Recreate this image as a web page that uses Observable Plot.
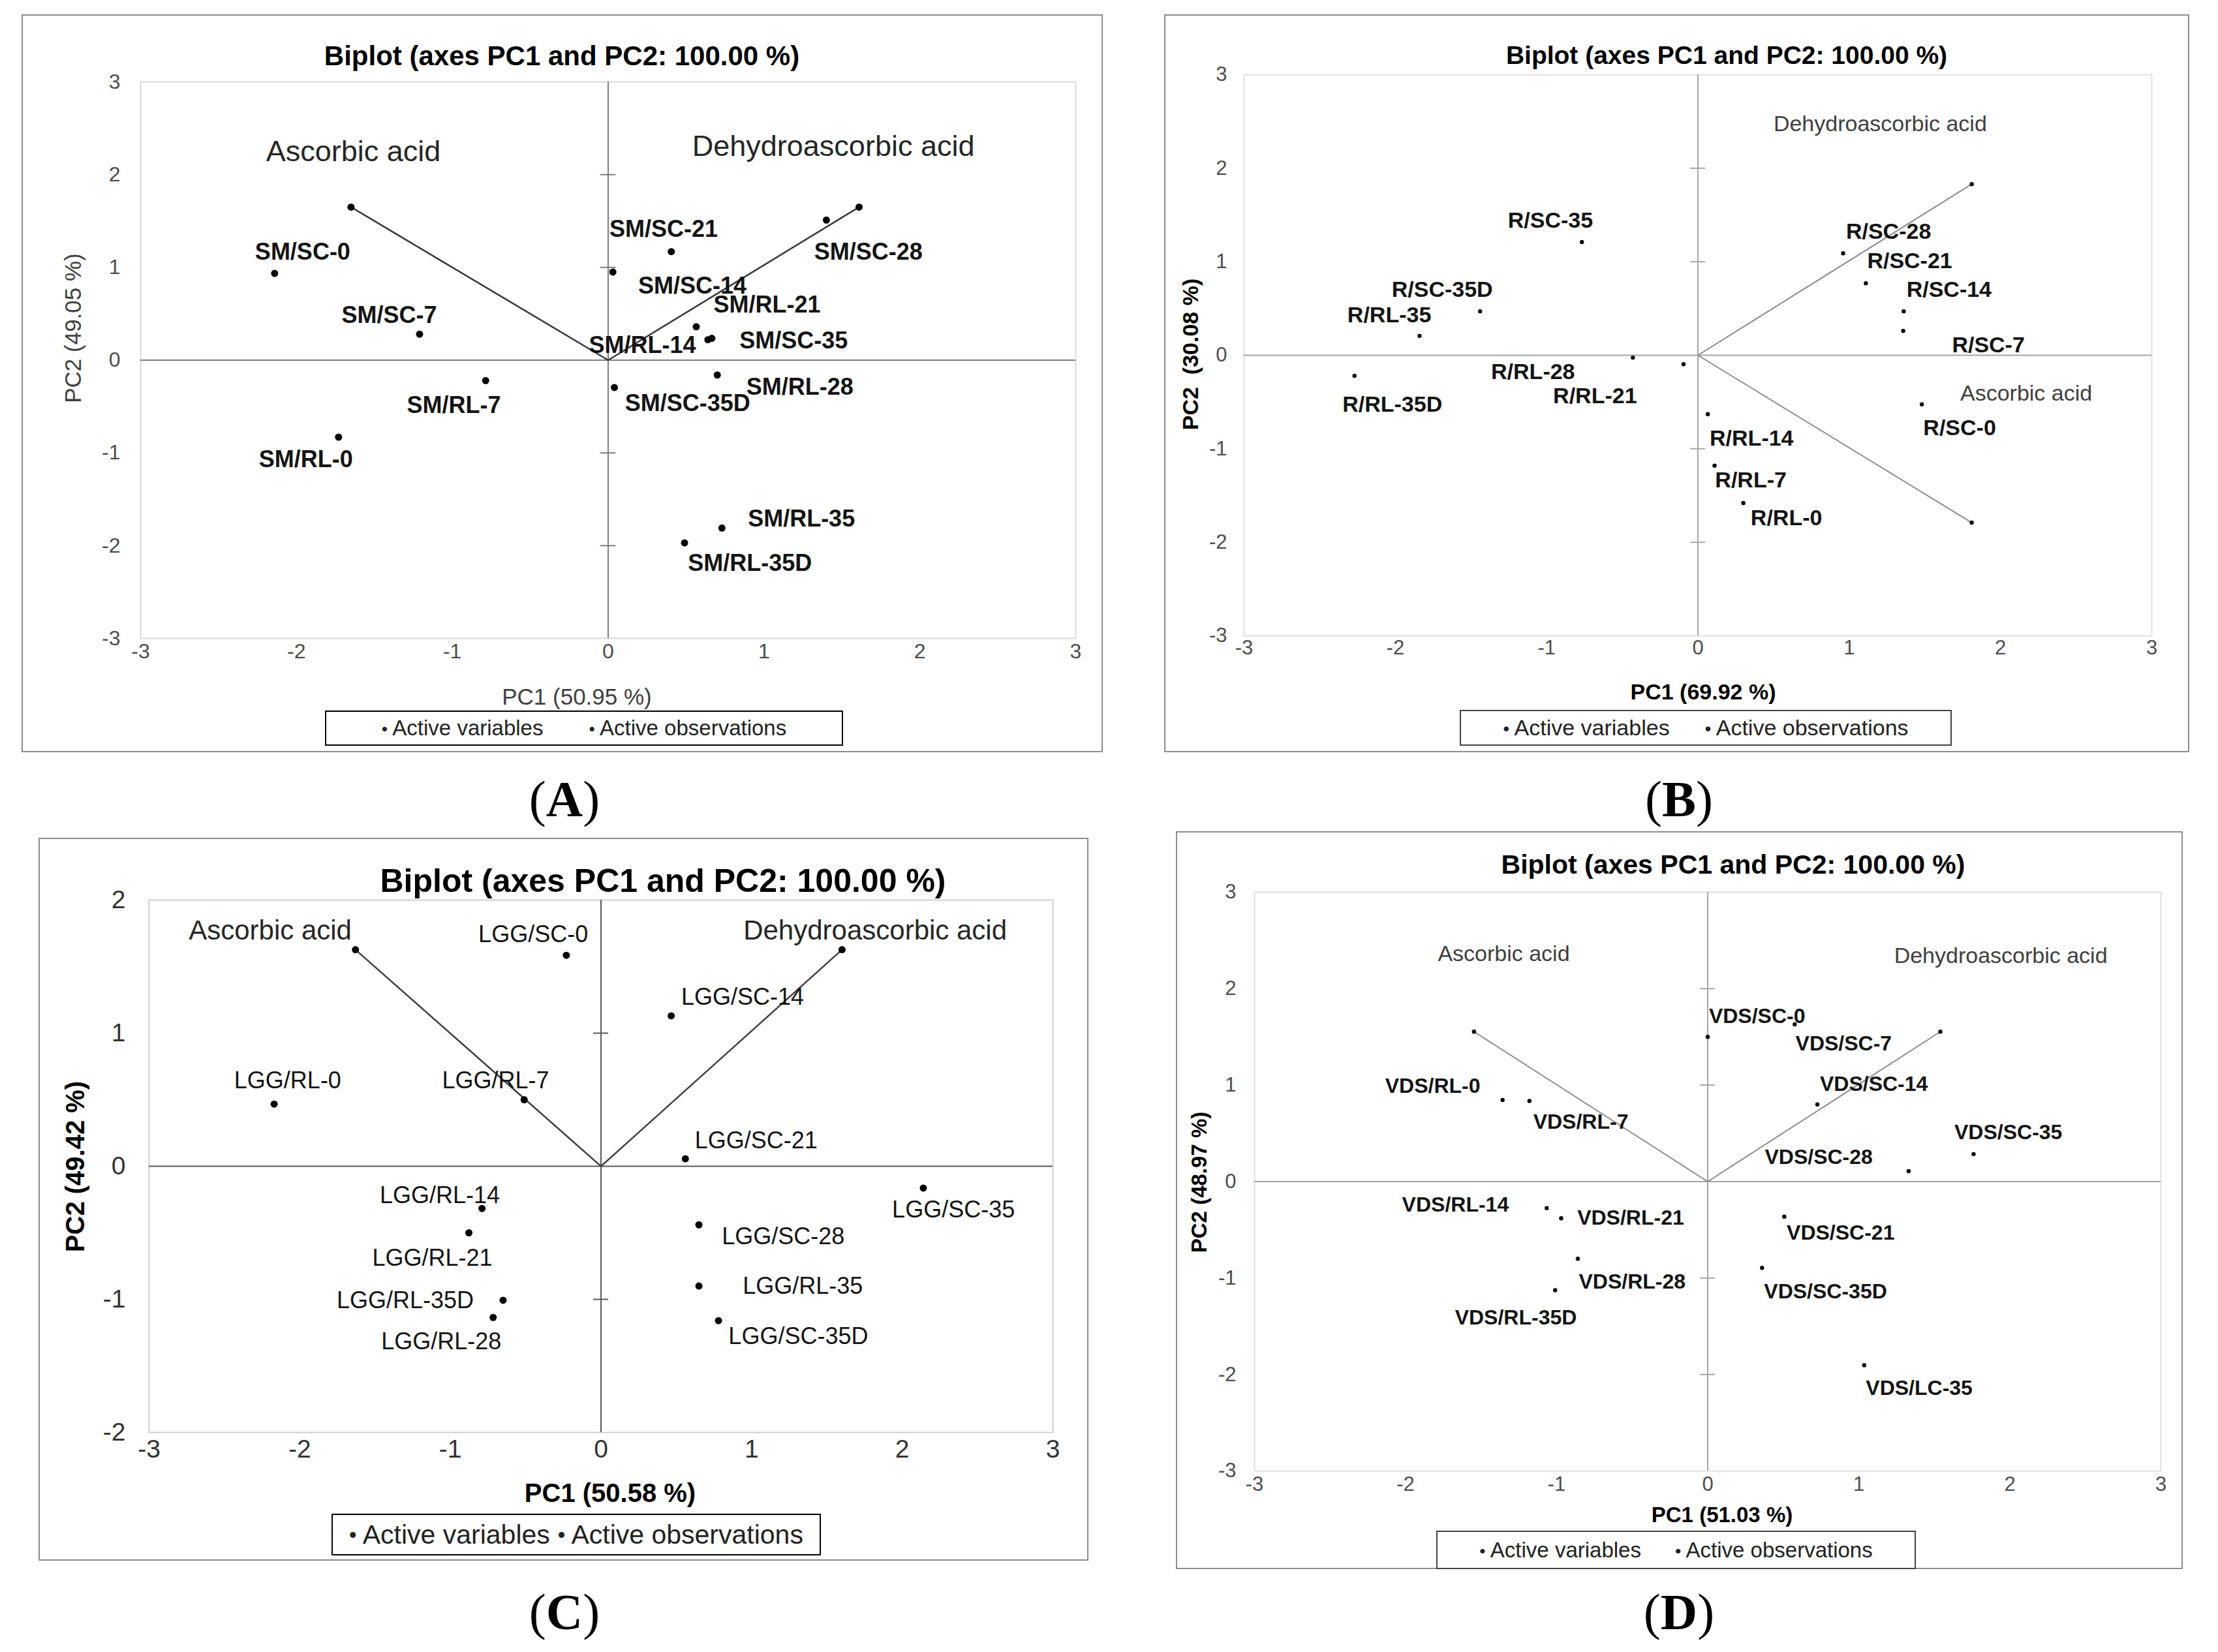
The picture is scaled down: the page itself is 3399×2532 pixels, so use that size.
<!DOCTYPE html>
<html>
<head>
<meta charset="utf-8">
<script src="https://cdn.jsdelivr.net/npm/d3@7"></script>
<script src="https://cdn.jsdelivr.net/npm/@observablehq/plot@0.6"></script>
<style>
  html, body { margin: 0; padding: 0; background: #fff; }
  body { position: relative; width: 3399px; height: 2532px; overflow: hidden;
         font-family: "Liberation Sans", Arial, sans-serif; color: #000; }
  .panel { position: absolute; box-sizing: border-box; border: 2px solid #8c8c8c; }
  .ctr { position: absolute; white-space: nowrap; line-height: 1; transform: translate(-50%, -50%); }
  .rot { transform: translate(-50%, -50%) rotate(-90deg); }
  .legend { position: absolute; box-sizing: border-box; display: flex; align-items: center;
            justify-content: center; white-space: nowrap; }
  .letter { position: absolute; transform: translate(-50%, -50%); font-family: "Liberation Serif", "DejaVu Serif", serif;
            font-size: 78px; line-height: 1; white-space: nowrap; }
  .letter b { font-weight: bold; }
  .chart { position: absolute; }
</style>
</head>
<body>
<script>
// ---------------- shared text / ticks ----------------
const panelTitle = "Biplot (axes PC1 and PC2: 100.00 %)";
const varNames = ["Ascorbic acid", "Dehydroascorbic acid"];
const legendItems = ["Active variables", "Active observations"];
const xTicks = [-3, -2, -1, 0, 1, 2, 3];
const yTicks3 = [-3, -2, -1, 0, 1, 2, 3];
const yTicks2 = [-2, -1, 0, 1, 2];
const innerTicks3 = [-2, -1, 1, 2];
const innerTicks2 = [-1, 1];

// ---------------- Panel A (SM) ----------------
const obsA = ["SM/SC-0", "SM/SC-7", "SM/SC-14", "SM/SC-21", "SM/SC-28", "SM/SC-35", "SM/SC-35D",
              "SM/RL-0", "SM/RL-7", "SM/RL-14", "SM/RL-21", "SM/RL-28", "SM/RL-35", "SM/RL-35D"];
const pc1A = [-2.14, -1.21, 0.03, 0.405, 1.40, 0.665, 0.04, -1.73, -0.786, 0.64, 0.565, 0.70, 0.73, 0.49];
const pc2A = [0.935, 0.28, 0.95, 1.17, 1.51, 0.235, -0.295, -0.83, -0.22, 0.22, 0.36, -0.16, -1.81, -1.97];
const labPc1A = [-1.96, -1.405, 0.54, 0.356, 1.67, 1.19, 0.51, -1.94, -0.99, 0.22, 1.02, 1.23, 1.24, 0.91];
const labPc2A = [1.165, 0.48, 0.80, 1.41, 1.165, 0.21, -0.47, -1.07, -0.49, 0.16, 0.595, -0.295, -1.71, -2.19];
const varPc1A = [-1.65, 1.61];
const varPc2A = [1.65, 1.65];
const varLabPc1A = [-1.635, 1.445];
const varLabPc2A = [2.25, 2.30];
const xTitleA = "PC1 (50.95 %)";
const yTitleA = "PC2 (49.05 %)";

// ---------------- Panel B (R) ----------------
const obsB = ["R/SC-0", "R/SC-7", "R/SC-14", "R/SC-21", "R/SC-28", "R/SC-35", "R/SC-35D",
              "R/RL-0", "R/RL-7", "R/RL-14", "R/RL-21", "R/RL-28", "R/RL-35", "R/RL-35D"];
const pc1B = [1.48, 1.357, 1.36, 1.11, 0.96, -0.767, -1.44, 0.30, 0.11, 0.065, -0.095, -0.43, -1.84, -2.27];
const pc2B = [-0.525, 0.26, 0.47, 0.77, 1.09, 1.21, 0.47, -1.58, -1.18, -0.63, -0.096, -0.025, 0.207, -0.22];
const labPc1B = [1.73, 1.92, 1.66, 1.40, 1.26, -0.975, -1.69, 0.585, 0.35, 0.355, -0.68, -1.09, -2.04, -2.02];
const labPc2B = [-0.78, 0.106, 0.70, 1.005, 1.32, 1.44, 0.70, -1.74, -1.34, -0.89, -0.44, -0.18, 0.43, -0.53];
const varPc1B = [1.81, 1.81];
const varPc2B = [-1.79, 1.83];
const varLabPc1B = [2.17, 1.205];
const varLabPc2B = [-0.41, 2.47];
const xTitleB = "PC1 (69.92 %)";
const yTitleB = "PC2  (30.08 %)";

// ---------------- Panel C (LGG) ----------------
const obsC = ["LGG/SC-0", "LGG/SC-14", "LGG/SC-21", "LGG/SC-28", "LGG/SC-35", "LGG/SC-35D",
              "LGG/RL-0", "LGG/RL-7", "LGG/RL-14", "LGG/RL-21", "LGG/RL-28", "LGG/RL-35", "LGG/RL-35D"];
const pc1C = [-0.23, 0.466, 0.56, 0.65, 2.14, 0.78, -2.17, -0.51, -0.79, -0.877, -0.716, 0.65, -0.65];
const pc2C = [1.585, 1.13, 0.056, -0.44, -0.164, -1.16, 0.467, 0.50, -0.317, -0.50, -1.136, -0.90, -1.007];
const labPc1C = [-0.45, 0.94, 1.03, 1.21, 2.34, 1.31, -2.08, -0.70, -1.07, -1.12, -1.06, 1.34, -1.30];
const labPc2C = [1.74, 1.27, 0.19, -0.53, -0.33, -1.28, 0.64, 0.64, -0.22, -0.69, -1.32, -0.90, -1.01];
const varPc1C = [-1.63, 1.60];
const varPc2C = [1.627, 1.627];
const varLabPc1C = [-2.196, 1.82];
const varLabPc2C = [1.77, 1.77];
const xTitleC = "PC1 (50.58 %)";
const yTitleC = "PC2 (49.42 %)";

// ---------------- Panel D (VDS) ----------------
const obsD = ["VDS/SC-0", "VDS/SC-7", "VDS/SC-14", "VDS/SC-21", "VDS/SC-28", "VDS/SC-35", "VDS/SC-35D",
              "VDS/RL-0", "VDS/RL-7", "VDS/RL-14", "VDS/RL-21", "VDS/RL-28", "VDS/RL-35D", "VDS/LC-35"];
const pc1D = [0.0, 0.576, 0.726, 0.507, 1.33, 1.76, 0.36, -1.358, -1.18, -1.066, -0.97, -0.86, -1.01, 1.036];
const pc2D = [1.50, 1.63, 0.80, -0.364, 0.108, 0.285, -0.895, 0.846, 0.836, -0.275, -0.38, -0.80, -1.126, -1.904];
const labPc1D = [0.327, 0.90, 1.10, 0.88, 0.735, 1.99, 0.78, -1.82, -0.84, -1.67, -0.51, -0.50, -1.27, 1.40];
const labPc2D = [1.71, 1.43, 1.01, -0.53, 0.25, 0.51, -1.14, 0.99, 0.62, -0.24, -0.38, -1.04, -1.41, -2.14];
const varPc1D = [-1.547, 1.54];
const varPc2D = [1.554, 1.554];
const varLabPc1D = [-1.35, 1.94];
const varLabPc2D = [2.36, 2.34];
const xTitleD = "PC1 (51.03 %)";
const yTitleD = "PC2 (48.97 %)";

// ---------------- layout & style (page pixels) ----------------
const FONT = '"Liberation Sans", Arial, sans-serif';
const layoutA = {
  letter: "A", frame: [33, 22, 1690, 1153], plot: [215, 125, 1648, 978],
  title: [861, 86, 42], xTitle: [884, 1067, 35, "normal"], yTitle: [111, 503, 35, "normal"],
  legend: [498, 1089, 1292, 1143, 33, "#000", 70], letterPos: [865, 1225],
  frameColor: "#d9d9d9", axisColor: "#7f7f7f", axisWidth: 2, vecColor: "#3a3a3a", vecWidth: 2.5,
  tickSize: 32, tickColor: "#4d4d4d", xTickDy: 30, yTickDx: 31,
  dotR: 5.5, labSize: 36, labWeight: "bold", varSize: 45, varColor: "#262626"
};
const layoutB = {
  letter: "B", frame: [1784, 22, 3355, 1153], plot: [1906, 114, 3297, 974],
  title: [2646, 84, 39], xTitle: [2610, 1060, 34, "bold"], yTitle: [1824, 543, 34, "bold"],
  legend: [2237, 1088, 2991, 1143, 34, "#444", 54], letterPos: [2573, 1225],
  frameColor: "#e0e0e0", axisColor: "#a6a6a6", axisWidth: 2, vecColor: "#8c8c8c", vecWidth: 2,
  tickSize: 31, tickColor: "#4d4d4d", xTickDy: 28, yTickDx: 26,
  dotR: 3.2, labSize: 34, labWeight: "bold", varSize: 34, varColor: "#404040"
};
const layoutC = {
  letter: "C", frame: [59, 1284, 1668, 2392], plot: [228, 1379, 1613, 2195],
  title: [1016, 1350, 50], xTitle: [935, 2288, 40, "bold"], yTitle: [115, 1788, 40, "bold"],
  legend: [508, 2320, 1258, 2384, 41, "#000", 12], letterPos: [865, 2471],
  frameColor: "#d0d0d0", axisColor: "#595959", axisWidth: 2, vecColor: "#404040", vecWidth: 2.5,
  tickSize: 39, tickColor: "#333", xTickDy: 38, yTickDx: 36,
  dotR: 5.5, labSize: 36, labWeight: "normal", varSize: 42, varColor: "#262626"
};
const layoutD = {
  letter: "D", frame: [1802, 1274, 3345, 2405], plot: [1922, 1367, 3311, 2254],
  title: [2656, 1325, 41], xTitle: [2639, 2321, 33, "bold"], yTitle: [1837, 1812, 33, "bold"],
  legend: [2201, 2346, 2936, 2405, 33, "#444", 52], letterPos: [2573, 2471],
  frameColor: "#e0e0e0", axisColor: "#a6a6a6", axisWidth: 2, vecColor: "#8c8c8c", vecWidth: 2,
  tickSize: 31, tickColor: "#4d4d4d", xTickDy: 30, yTickDx: 28,
  dotR: 3.2, labSize: 32, labWeight: "bold", varSize: 34, varColor: "#404040"
};

const panels = [
  {names: obsA, pc1: pc1A, pc2: pc2A, lx: labPc1A, ly: labPc2A, vx: varPc1A, vy: varPc2A, vlx: varLabPc1A, vly: varLabPc2A,
   xTitle: xTitleA, yTitle: yTitleA, yDomain: [-3, 3], yTicks: yTicks3, inner: innerTicks3, L: layoutA},
  {names: obsB, pc1: pc1B, pc2: pc2B, lx: labPc1B, ly: labPc2B, vx: varPc1B, vy: varPc2B, vlx: varLabPc1B, vly: varLabPc2B,
   xTitle: xTitleB, yTitle: yTitleB, yDomain: [-3, 3], yTicks: yTicks3, inner: innerTicks3, L: layoutB},
  {names: obsC, pc1: pc1C, pc2: pc2C, lx: labPc1C, ly: labPc2C, vx: varPc1C, vy: varPc2C, vlx: varLabPc1C, vly: varLabPc2C,
   xTitle: xTitleC, yTitle: yTitleC, yDomain: [-2, 2], yTicks: yTicks2, inner: innerTicks2, L: layoutC},
  {names: obsD, pc1: pc1D, pc2: pc2D, lx: labPc1D, ly: labPc2D, vx: varPc1D, vy: varPc2D, vlx: varLabPc1D, vly: varLabPc2D,
   xTitle: xTitleD, yTitle: yTitleD, yDomain: [-3, 3], yTicks: yTicks3, inner: innerTicks3, L: layoutD}
];

function el(tag, cls, css, html) {
  const e = document.createElement(tag);
  if (cls) e.className = cls;
  Object.assign(e.style, css || {});
  if (html != null) e.innerHTML = html;
  document.body.appendChild(e);
  return e;
}

function drawPanel(P) {
  const L = P.L;
  const [fl, ft, fr, fb] = L.frame;
  el("div", "panel", {left: fl + "px", top: ft + "px", width: (fr - fl) + "px", height: (fb - ft) + "px"});

  const [pl, pt, pr, pb] = L.plot;
  const m = {l: 130, r: 40, t: 40, b: 100};
  const obs = P.names.map((name, i) => ({name, x: P.pc1[i], y: P.pc2[i], lx: P.lx[i], ly: P.ly[i]}));
  const vars = varNames.map((name, i) => ({name, x: P.vx[i], y: P.vy[i], lx: P.vlx[i], ly: P.vly[i]}));

  const chart = Plot.plot({
    width: pr - pl + m.l + m.r,
    height: pb - pt + m.t + m.b,
    marginLeft: m.l, marginRight: m.r, marginTop: m.t, marginBottom: m.b,
    x: {domain: [-3, 3], axis: null},
    y: {domain: P.yDomain, axis: null},
    style: {background: "transparent", fontFamily: FONT, maxWidth: "none", overflow: "visible"},
    marks: [
      Plot.frame({stroke: L.frameColor, strokeWidth: 2}),
      Plot.ruleX([0], {stroke: L.axisColor, strokeWidth: L.axisWidth}),
      Plot.ruleY([0], {stroke: L.axisColor, strokeWidth: L.axisWidth}),
      Plot.ruleY(P.inner, {y: d => d, x1: () => -0.05, x2: () => 0.05, stroke: L.axisColor, strokeWidth: L.axisWidth}),
      Plot.text(xTicks, {x: d => d, frameAnchor: "bottom", dy: L.xTickDy, text: d => String(d),
                         fontSize: L.tickSize, fill: L.tickColor}),
      Plot.text(P.yTicks, {y: d => d, frameAnchor: "left", dx: -L.yTickDx, textAnchor: "end", text: d => String(d),
                           fontSize: L.tickSize, fill: L.tickColor}),
      Plot.link(vars, {x1: () => 0, y1: () => 0, x2: "x", y2: "y", stroke: L.vecColor, strokeWidth: L.vecWidth}),
      Plot.dot(vars, {x: "x", y: "y", r: L.dotR, fill: "#000", stroke: "none"}),
      Plot.dot(obs, {x: "x", y: "y", r: L.dotR, fill: "#000", stroke: "none"}),
      Plot.text(obs, {x: "lx", y: "ly", text: "name", fontSize: L.labSize, fontWeight: L.labWeight, fill: "#141414"}),
      Plot.text(vars, {x: "lx", y: "ly", text: "name", fontSize: L.varSize, fill: L.varColor})
    ]
  });
  const wrap = el("div", "chart", {left: (pl - m.l) + "px", top: (pt - m.t) + "px"});
  wrap.appendChild(chart);

  el("div", "ctr", {left: L.title[0] + "px", top: L.title[1] + "px", fontSize: L.title[2] + "px", fontWeight: "bold"}, panelTitle);
  el("div", "ctr", {left: L.xTitle[0] + "px", top: L.xTitle[1] + "px", fontSize: L.xTitle[2] + "px",
                    fontWeight: L.xTitle[3], color: L.xTitle[3] === "bold" ? "#000" : "#404040"}, P.xTitle);
  el("div", "ctr rot", {left: L.yTitle[0] + "px", top: L.yTitle[1] + "px", fontSize: L.yTitle[2] + "px",
                        fontWeight: L.yTitle[3], color: L.yTitle[3] === "bold" ? "#000" : "#404040"}, P.yTitle.replace(/ /g, "&nbsp;"));

  const [gl, gt, gr, gb, gs, gc, gap] = L.legend;
  const lg = el("div", "legend", {left: gl + "px", top: gt + "px", width: (gr - gl) + "px", height: (gb - gt) + "px",
                                  border: "2px solid " + gc, fontSize: gs + "px", gap: gap + "px", color: "#222"});
  legendItems.forEach(t => {
    const s = document.createElement("span");
    s.innerHTML = '<span style="font-size:0.8em;vertical-align:0.05em">\u2022</span> ' + t;
    lg.appendChild(s);
  });

  el("div", "letter", {left: L.letterPos[0] + "px", top: L.letterPos[1] + "px"}, "(<b>" + L.letter + "</b>)");
}

panels.forEach(drawPanel);
</script>
</body>
</html>
